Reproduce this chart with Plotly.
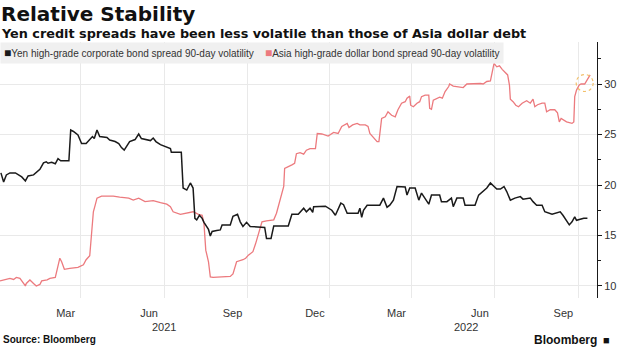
import pandas as pd
import plotly.graph_objects as go

# ---- data ----
base_date = "2020-12-02"  # day 0

yen_days = [1,4,7,11,17,20,24,28,31,37,
            40,44,48,51,53,57,61,64,67,76,
            78,81,86,90,95,99,102,104,107,110,
            118,121,127,131,134,137,140,143,149,153,
            156,162,166,169,172,177,182,188,189,200,
            202,206,210,213,215,217,220,223,225,228,
            230,232,234,239,243,245,254,257,262,265,
            268,272,276,292,294,299,302,318,322,329,
            335,338,342,345,346,359,362,366,370,372,
            376,379,383,395,397,399,401,405,419,423,
            427,430,434,438,447,449,452,458,462,465,
            469,473,476,485,487,493,498,500,504,511,
            513,524,528,533,537,541,544,548,552,556,
            559,563,568,574,577,585,588,592,598,601,
            609,618,621,625,628,631,634,636,640,644,
            648]
yen_vals = [21.2,20.3,21.0,21.2,21.2,21.0,20.8,20.4,20.9,21.0,
            21.2,21.55,22.2,22.3,22.15,22.25,22.1,22.6,22.4,22.4,
            25.45,25.3,24.95,24.1,24.1,24.5,24.8,24.6,25.45,24.8,
            24.7,24.45,24.3,24.1,23.7,23.45,23.95,24.3,24.5,25.05,
            24.6,24.5,24.4,24.65,24.3,24.0,23.8,23.6,23.25,23.25,
            19.7,19.5,20.2,19.7,16.7,16.55,17.0,16.7,16.3,15.8,
            15.6,14.95,15.4,15.5,15.55,16.05,16.05,16.9,17.1,16.35,
            15.9,16.3,15.9,15.8,14.7,14.7,15.95,15.95,17.1,17.1,
            17.7,17.35,17.7,17.3,17.85,17.9,17.7,17.5,17.0,17.45,
            18.2,18.05,17.2,17.2,17.7,16.8,17.5,18.0,18.0,18.7,
            17.8,18.0,18.5,19.85,19.8,19.0,19.7,19.7,18.5,19.2,
            18.7,18.1,19.0,19.0,18.35,18.35,18.7,17.85,18.7,18.7,
            18.0,18.0,19.0,19.35,19.7,20.2,19.9,19.6,19.6,19.85,
            19.35,18.5,18.7,18.85,18.6,18.7,18.35,18.0,18.0,17.35,
            17.1,17.35,17.0,16.5,16.05,16.35,16.85,16.5,16.6,16.7,
            16.7]

asia_days = [0,6,11,15,18,22,25,28,29,33,
             37,40,44,46,52,55,61,63,66,68,
             71,77,86,92,95,99,100,103,105,107,
             112,125,132,142,147,153,160,169,177,184,
             188,191,199,206,213,219,223,225,227,230,
             232,235,243,254,257,261,268,271,274,279,
             282,285,289,294,302,305,309,313,314,318,
             322,325,327,331,335,338,342,348,350,355,
             362,368,373,377,381,383,385,389,394,397,
             403,406,408,412,416,418,421,425,428,432,
             436,439,443,447,449,452,453,456,460,463,
             465,469,473,474,476,478,482,485,488,491,
             495,496,500,508,511,515,522,530,533,537,
             541,544,545,548,551,554,557,560,562,563,
             566,569,572,576,581,585,588,590,593,598,
             601,603,607,612,615,617,619,621,625,631,
             633,634,636,639,641,645,651]
asia_vals = [10.5,10.65,10.75,10.65,10.85,10.75,10.35,10.0,10.25,10.6,
             10.25,10.0,10.15,10.5,10.6,10.75,10.85,11.6,12.75,12.4,
             11.65,11.75,11.85,12.1,12.6,13.0,14.2,17.35,18.0,18.7,
             18.9,18.9,18.8,18.7,18.5,18.7,18.35,18.45,18.25,18.1,
             17.85,17.35,17.1,17.2,17.35,17.1,17.0,16.2,13.55,12.4,
             10.9,10.85,10.9,10.95,11.2,12.4,12.6,12.75,13.05,13.4,
             14.2,15.2,16.35,16.45,16.55,17.2,18.5,19.85,21.65,21.8,
             22.0,22.15,23.1,23.2,23.05,23.45,23.6,23.6,25.1,25.05,
             24.85,25.2,25.1,25.8,25.95,26.1,25.7,25.95,26.1,25.95,
             25.95,25.8,25.1,24.7,24.3,24.3,26.6,26.75,27.25,26.9,
             26.75,27.45,28.1,28.25,28.6,28.8,27.9,27.75,28.1,28.25,
             28.75,28.9,28.9,27.6,27.5,28.4,28.6,28.7,28.6,29.25,
             29.75,30.0,29.8,29.65,29.65,30.0,30.05,30.05,30.0,30.25,
             30.3,31.9,32.05,31.7,31.8,31.45,31.2,30.9,29.9,28.5,
             28.25,27.9,27.75,28.1,28.35,28.1,28.5,27.75,27.95,28.1,
             28.1,27.25,27.45,27.45,27.15,26.25,26.6,26.5,26.25,26.1,
             26.25,28.75,29.4,29.9,30.0,30.0,30.9]

highlight_day = 645
highlight_val = 30.1

grid_dates = ["2021-03-01", "2021-06-01", "2021-09-01", "2021-12-01",
              "2022-03-01", "2022-06-01", "2022-09-01"]
grid_labels = ["Mar", "Jun", "Sep", "Dec", "Mar", "Jun", "Sep"]
year_labels = ["2021", "2022"]
year_dates = ["2021-06-01", "2022-04-30"]

x_range = ["2020-12-02", "2022-09-21 14:00"]
y_range = [8.81, 34.16]

name_yen = "Yen high-grade corporate bond spread 90-day volatility"
name_asia = "Asia high-grade dollar bond spread 90-day volatility"

# ---- build ----
base = pd.Timestamp(base_date)
yen_x = base + pd.to_timedelta(yen_days, unit="D")
asia_x = base + pd.to_timedelta(asia_days, unit="D")
hl_x = base + pd.Timedelta(days=highlight_day)

BLACK = "#1a1a1a"
RED = "#ec7a7e"
FONT = "Liberation Sans"
TITLE_FONT = "DejaVu Sans"

fig = go.Figure()
fig.add_trace(go.Scatter(x=asia_x, y=asia_vals, mode="lines", name=name_asia,
                         line=dict(color=RED, width=1.3), showlegend=False))
fig.add_trace(go.Scatter(x=yen_x, y=yen_vals, mode="lines", name=name_yen,
                         line=dict(color=BLACK, width=1.5), showlegend=False))

fig.add_shape(type="circle", xref="x", yref="y", xsizemode="pixel", ysizemode="pixel",
              xanchor=hl_x, yanchor=highlight_val, x0=-8.5, x1=8.5, y0=-8.5, y1=8.5,
              line=dict(color="#f3c06a", width=1.2, dash="dot"))

fig.update_layout(
    width=620, height=348,
    margin=dict(l=0, r=23, t=42, b=50),
    paper_bgcolor="white", plot_bgcolor="white",
    font=dict(family=FONT, color="#333333", size=11),
    showlegend=False,
)

fig.update_xaxes(
    range=x_range, type="date",
    tickmode="array", tickvals=grid_dates, ticktext=grid_labels,
    ticklabelshift=-15, ticklabelstandoff=7,
    showgrid=True, gridcolor="#e9e9e9", gridwidth=1,
    showline=False, zeroline=False, ticks="",
    tickfont=dict(family=FONT, size=11, color="#333333"),
)
fig.update_yaxes(
    range=y_range, side="right", dtick=5, tick0=0,
    showgrid=True, gridcolor="#e9e9e9", gridwidth=1,
    showline=True, linecolor=BLACK, linewidth=1,
    ticks="outside", ticklen=4, tickcolor=BLACK,
    minor=dict(dtick=2.5, tick0=0, ticks="outside", ticklen=3, tickcolor=BLACK, showgrid=False),
    zeroline=False,
    tickfont=dict(family=FONT, size=11, color="#333333"),
)

ann = []
ann.append(dict(text="<b>Relative Stability</b>", xref="paper", yref="paper",
                x=0, y=1.109, xanchor="left", yanchor="middle", showarrow=False,
                xshift=-1, font=dict(family=TITLE_FONT, size=20, color="#111111")))
ann.append(dict(text="<b>Yen credit spreads have been less volatile than those of Asia dollar debt</b>",
                xref="paper", yref="paper", x=0, y=1.035, xanchor="left", yanchor="middle",
                showarrow=False, xshift=-1, font=dict(family=TITLE_FONT, size=12.8, color="#111111")))
legend_text = (f'<span style="color:{BLACK};font-size:12px">■</span>{name_yen}'
               f'    <span style="color:{RED};font-size:12px">■</span>{name_asia}')
ann.append(dict(text=legend_text, xref="paper", yref="paper", x=0, y=1.0,
                xanchor="left", yanchor="top", showarrow=False, bgcolor="#f0f0f0",
                borderpad=3,
                font=dict(family=FONT, size=10, color="#333333")))
for yl, yd in zip(year_labels, year_dates):
    ann.append(dict(text=yl, xref="x", yref="paper", x=yd, y=-0.113,
                    xanchor="center", yanchor="middle", showarrow=False,
                    font=dict(family=FONT, size=11, color="#333333")))
ann.append(dict(text="<b>Source: Bloomberg</b>", xref="paper", yref="paper",
                x=0, y=-0.164, xanchor="left", yanchor="middle", showarrow=False,
                xshift=1, font=dict(family=FONT, size=10, color="#111111")))
ann.append(dict(text="<b>Bloomberg</b>", xref="paper", yref="paper",
                x=1.0, y=-0.164, xanchor="right", yanchor="middle", showarrow=False,
                xshift=2, font=dict(family=FONT, size=12, color="#111111")))
ann.append(dict(text="■", xref="paper", yref="paper",
                x=1.0, y=-0.164, xanchor="left", yanchor="middle", showarrow=False,
                xshift=4, font=dict(family=FONT, size=11, color="#111111")))
fig.update_layout(annotations=ann)

fig.write_html("out.html")
